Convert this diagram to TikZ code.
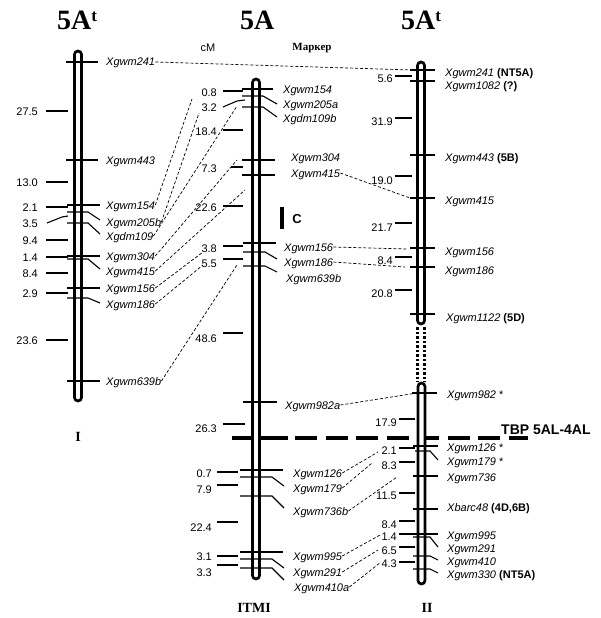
\documentclass[tikz,border=0pt]{standalone}
\usepackage{fontspec}
\setmainfont{Liberation Serif}
\setsansfont{Liberation Sans}

\begin{document}
\begin{tikzpicture}[x=1pt, y=-1pt,
    every node/.style={inner sep=0pt},
    mrk/.style={anchor=west, text height=8pt, text depth=0pt,
      font=\fontsize{11}{13}\selectfont\sffamily\itshape},
    dist/.style={anchor=east, text height=8pt, text depth=0pt,
      font=\fontsize{11}{13}\selectfont\sffamily},
    hdr/.style={anchor=base west, font=\fontsize{28}{30}\selectfont\bfseries},
    foot/.style={font=\fontsize{14}{16}\selectfont\bfseries},
    chrom/.style={line width=2.7pt, rounded corners=3.5pt, fill=white},
    tickln/.style={line width=1.1pt},
    link/.style={line width=0.7pt, dash pattern=on 3pt off 2pt}]

  \fill[white] (0,0) rectangle (601,618);

  % headings
  \node[hdr] (h1) at (57,30) {5A\raisebox{8pt}{\fontsize{17}{17}\selectfont t}};
  \node[hdr] (h2) at (240,30) {5A};
  \node[hdr] (h3) at (401,30) {5A\raisebox{8pt}{\fontsize{17}{17}\selectfont t}};
  \node[font=\fontsize{11}{13}\selectfont\sffamily] (cm) at (208,48) {сМ};
  \node[font=\fontsize{11}{13}\selectfont\bfseries] (mk) at (312,48) {Маркер};
  \node[foot] (f1) at (78,437) {I};
  \node[foot] (f2) at (254,608) {ITMI};
  \node[foot] (f3) at (427,608) {II};

  % breakpoint line
  \draw[line width=3.5pt] (232,438) -- (288,438);
  \draw[line width=3.5pt, dash pattern=on 22pt off 8.5pt] (295,438) -- (528,438);
  \node[anchor=west, font=\fontsize{14}{16}\selectfont\sffamily\bfseries]
    (tbp) at (501,430) {TBP 5AL-4AL};

  % chromosomes
  \draw[chrom] (74.5,51) rectangle (81.5,401);
  \draw[chrom] (252.5,79) rectangle (259.5,579);
  \draw[chrom] (417.5,62) rectangle (424.5,324);
  \draw[chrom] (418,383) rectangle (425,584);
  \draw[line width=2.7pt, dash pattern=on 2.5pt off 2pt]
    (417.5,327) -- (417.5,382) (424.5,327) -- (424.5,382);

  \draw[line width=4pt] (282,207) -- (282,229);
  \node[font=\fontsize{13}{15}\selectfont\sffamily\bfseries] (cc) at (297,219) {C};

  % ticks
  \foreach \y in {62,160} \draw[tickln] (66,\y) -- (98,\y);
  \foreach \y in {205,256,288,381} \draw[tickln] (67,\y) -- (100,\y);
  \foreach \y/\z in {212/220,223/234,259/269,298/303}
    \draw[tickln] (67,\y) -- (88,\y) -- (100,\z);
  \foreach \y in {111,182,207,240,257,273,293,340} \draw[tickln] (46,\y) -- (68,\y);
  \draw[tickln] (47,223) -- (62,217) -- (68,216);

  \draw[tickln] (242,89) -- (273,89);
  \foreach \y in {160,175} \draw[tickln] (242,\y) -- (275,\y);
  \foreach \y/\z in {96/104,107/117} \draw[tickln] (242,\y) -- (263,\y) -- (277,\z);
  \draw[tickln] (243,243) -- (276,243);
  \foreach \y/\z in {252/259,266/272} \draw[tickln] (243,\y) -- (265,\y) -- (277,\z);
  \draw[tickln] (243,402) -- (277,402);
  \foreach \y in {470,552} \draw[tickln] (240,\y) -- (283,\y);
  \foreach \y/\z in {477/486,496/508,559/568,568/580}
    \draw[tickln] (240,\y) -- (272,\y) -- (284,\z);
  \foreach \y in {91,130,206,246,259,333} \draw[tickln] (223,\y) -- (243,\y);
  \draw[tickln] (231,167) -- (243,167);
  \draw[tickln] (223,424) -- (245,424);
  \draw[tickln] (223,107) -- (237,101) -- (245,100);
  \foreach \y in {472,485,522,556,565} \draw[tickln] (217,\y) -- (238,\y);

  \foreach \y in {70,81,155,198,248,267,314} \draw[tickln] (410,\y) -- (435,\y);
  \draw[tickln] (412,393) -- (437,393);
  \foreach \y in {446,476,509,534} \draw[tickln] (413,\y) -- (438,\y);
  \draw[tickln] (415,451) -- (430,451) -- (438,460);
  \foreach \y/\z in {537/547,556/560,569/573}
    \draw[tickln] (413,\y) -- (430,\y) -- (438,\z);
  \foreach \y in {76,118,176,223,257,290} \draw[tickln] (395,\y) -- (412,\y);
  \foreach \y in {419,448,462,493,521,534,547,562} \draw[tickln] (399,\y) -- (415,\y);

  % distances
  \foreach \v/\y [count=\i] in {27.5/111,13.0/182,2.1/207,3.5/223,9.4/240,
      1.4/257,8.4/273,2.9/293,23.6/340}
    \node[dist] (da\i) at (38,\y) {\v};
  \foreach \v/\y [count=\i] in {0.8/92,3.2/107,18.4/131,7.3/168,22.6/207,
      3.8/248,5.5/263,48.6/338,26.3/428}
    \node[dist] (db\i) at (217,\y) {\v};
  \foreach \v/\y [count=\i] in {0.7/473,7.9/489,22.4/527,3.1/556,3.3/572}
    \node[dist] (dc\i) at (212,\y) {\v};
  \foreach \v/\y [count=\i] in {5.6/78,31.9/121,19.0/180,21.7/227,8.4/260,20.8/293}
    \node[dist] (dd\i) at (393,\y) {\v};
  \foreach \v/\y [count=\i] in {17.9/422,2.1/450,8.3/465,11.5/495,8.4/524,
      1.4/536,6.5/550,4.3/563}
    \node[dist] (de\i) at (397,\y) {\v};

  % markers
  \foreach \n/\y/\t in {a241/62/Xgwm241,a443/160/Xgwm443,a154/205/Xgwm154,
      a205b/222/Xgwm205b,a109/236/Xgdm109,a304/256/Xgwm304,a415/271/Xgwm415,
      a156/288/Xgwm156,a186/304/Xgwm186,a639b/381/Xgwm639b}
    \node[mrk] (\n) at (106,\y) {\t};
  \foreach \n/\x/\y/\t in {b154/283/89/Xgwm154,b205a/283/104/Xgwm205a,
      b109b/283/118/Xgdm109b,b304/291/157/Xgwm304,b415/291/173/Xgwm415,
      b156/284/247/Xgwm156,b186/284/262/Xgwm186,b639b/286/278/Xgwm639b,
      b982a/285/405/Xgwm982a,b126/293/473/Xgwm126,b179/293/488/Xgwm179,
      b736b/293/511/Xgwm736b,b995/293/556/Xgwm995,b291/293/572/Xgwm291,
      b410a/294/587/Xgwm410a}
    \node[mrk] (\n) at (\x,\y) {\t};
  \foreach \n/\x/\y/\t in {c241/445/72/{Xgwm241 \textup{\bfseries (NT5A)}},
      c1082/445/85/{Xgwm1082 \textup{\bfseries (?)}},
      c443/445/157/{Xgwm443 \textup{\bfseries (5B)}},
      c415/445/200/Xgwm415,c156/445/251/Xgwm156,c186/445/270/Xgwm186,
      c1122/446/317/{Xgwm1122 \textup{\bfseries (5D)}},
      c982/447/394/{Xgwm982 \textup{*}},c126/447/447/{Xgwm126 \textup{*}},
      c179/447/461/{Xgwm179 \textup{*}},c736/447/477/Xgwm736,
      c48/447/507/{Xbarc48 \textup{\bfseries (4D,6B)}},
      c995/447/535/Xgwm995,c291/447/548/Xgwm291,c410/447/561/Xgwm410,
      c330/447/574/{Xgwm330 \textup{\bfseries (NT5A)}}}
    \node[mrk] (\n) at (\x,\y) {\t};

  % links
  \coordinate (e241) at (412,70);
  \coordinate (e154) at (192,99);
  \coordinate (e205) at (199,113);
  \coordinate (e109) at (237,106);
  \coordinate (e304) at (237,160);
  \coordinate (e415) at (245,190);
  \coordinate (e156) at (203,252);
  \coordinate (e186) at (203,265);
  \coordinate (e639) at (237,265);
  \draw[link] (a241.east) -- (e241);
  \draw[link] (a154.east) -- (e154);
  \draw[link] (a205b.east) -- (e205);
  \draw[link] (a109.east) -- (e109);
  \draw[link] (a304.east) -- (e304);
  \draw[link] (a415.east) -- (e415);
  \draw[link] (a156.east) -- (e156);
  \draw[link] (a186.east) -- (e186);
  \draw[link] (a639b.east) -- (e639);

  \coordinate (g415) at (410,198);
  \coordinate (g156) at (407,249);
  \coordinate (g186) at (405,267);
  \coordinate (g982) at (417,393);
  \coordinate (g126) at (378,452);
  \coordinate (g179) at (372,463);
  \coordinate (g736) at (397,477);
  \coordinate (g995) at (380,535);
  \coordinate (g291) at (378,550);
  \coordinate (g410) at (381,562);
  \draw[link] (b415.east) -- (g415);
  \draw[link] (b156.east) -- (g156);
  \draw[link] (b186.east) -- (g186);
  \draw[link] (b982a.east) -- (g982);
  \draw[link] (b126.east) -- (g126);
  \draw[link] (b179.east) -- (g179);
  \draw[link] (b736b.east) -- (g736);
  \draw[link] (b995.east) -- (g995);
  \draw[link] (b291.east) -- (g291);
  \draw[link] (b410a.east) -- (g410);
\end{tikzpicture}
\end{document}
